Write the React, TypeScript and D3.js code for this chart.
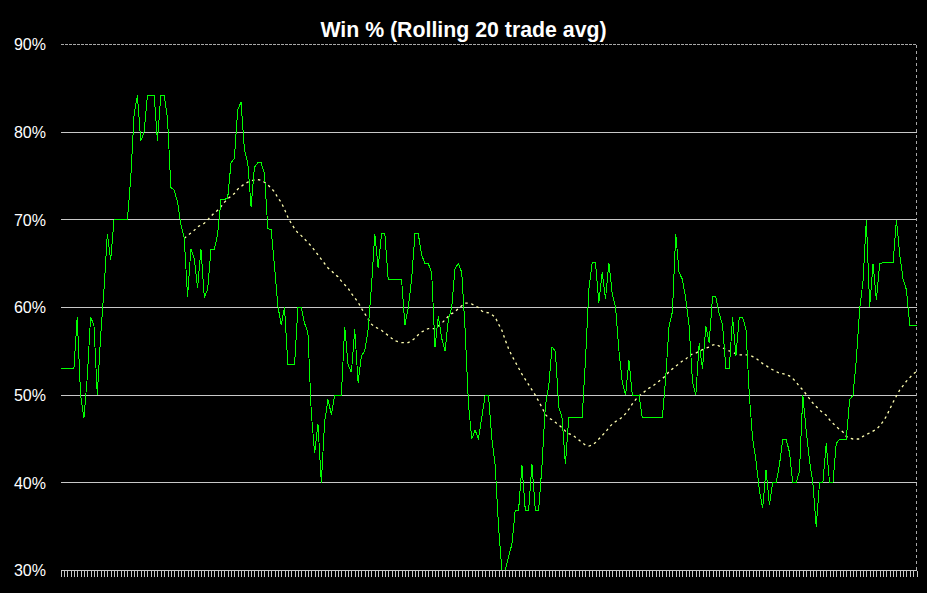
import React from 'react';
import * as d3 from 'd3';

// Rolling 20-trade win % (one value per trade tick)
const winPct: number[] = [
  53, 53, 53, 53, 53, 58.9, 50, 47.4, 52, 58.9,
  58, 50, 56.7, 62, 68.4, 65.4, 70, 70, 70, 70,
  70, 74.7, 82, 84.2, 79, 80, 84.2, 84.2, 84.2, 79,
  84.2, 84.2, 81.6, 73.7, 73.4, 72, 69.5, 68, 61.2, 66.7,
  65.6, 62.2, 66.7, 61.2, 62, 66.6, 66.6, 68.4, 72.3, 72.3,
  72.5, 76.5, 77, 82.6, 83.4, 78, 76.5, 71.5, 76, 76.5,
  76.5, 75.3, 69, 68.9, 64.7, 60.2, 58, 60, 53.5, 53.5,
  53.5, 60, 60, 58.2, 57.1, 48, 43.4, 46.7, 40, 47,
  49.5, 47.8, 50, 50, 50, 57.8, 53.5, 52.6, 57.5, 51.4,
  54.5, 55.05, 57.5, 62.4, 68.4, 64.5, 68.4, 68.4, 63.2, 63.2,
  63.2, 63.2, 63.2, 58, 60, 63.2, 68.4, 68.4, 66, 65,
  65, 64, 55.5, 59, 56.5, 55.05, 58.6, 60, 64.5, 65,
  64, 57.5, 49, 45, 46, 45, 47.5, 50, 50, 45,
  42, 35, 30, 30, 31.6, 33, 36.9, 36.9, 42, 36.9,
  36.9, 42.1, 36.9, 36.9, 42, 48.8, 51, 55.5, 55, 48.7,
  47.4, 42.1, 47.4, 47.4, 47.4, 47.4, 47.4, 54, 62, 65.1,
  65.1, 60.5, 64, 61, 65.1, 61.6, 60, 55.1, 51.5, 50,
  54, 50, 50, 50, 47.4, 47.4, 47.4, 47.4, 47.4, 47.4,
  47.4, 52, 57.9, 59.5, 68.4, 64, 63.2, 61, 57.9, 51.5,
  50, 55.9, 53, 57.9, 56, 61.2, 61.2, 59.3, 58, 53,
  53, 58.9, 54.5, 58.9, 58.9, 57.5, 50, 45, 42.5, 39.2,
  37.1, 41.5, 37.5, 40, 40, 42, 45, 45, 43.5, 40,
  40, 41.3, 50, 46, 42.5, 40, 35, 40, 40, 44.5,
  40, 40, 44.5, 45, 45, 45, 49.5, 50, 54, 59.8,
  63, 70, 60.1, 65, 60.9, 65, 65.1, 65.1, 65.1, 65.1,
  70, 66, 63.2, 62, 57.9, 57.9, 57.9,
];

// Moving average of the rolling win %, starting at trade index maStart
const maStart = 37;
const maValues: number[] = [
  67.9, 68.2, 68.5, 68.8, 69.2, 69.4, 69.6, 70.0, 70.4, 70.8,
  71.1, 71.5, 72.0, 72.4, 72.7, 73.0, 73.5, 73.8, 74.1, 74.3,
  74.45, 74.55, 74.6, 74.5, 74.3, 74.0, 73.6, 73.2, 72.5, 72.0,
  71.2, 70.3, 69.6, 69.0, 68.5, 68.2, 67.8, 67.4, 67.0, 66.5,
  66.0, 65.5, 65.0, 64.5, 64.2, 63.8, 63.5, 63.0, 62.6, 62.2,
  61.6, 61.1, 60.6, 59.9, 59.3, 58.7, 58.1, 57.8, 57.6, 57.4,
  57.1, 56.8, 56.5, 56.2, 56.1, 56.0, 56.0, 56.0, 56.2, 56.5,
  56.9, 57.2, 57.4, 57.6, 57.6, 57.6, 57.9, 58.2, 58.6, 59.0,
  59.3, 59.5, 59.9, 60.2, 60.5, 60.5, 60.4, 60.2, 60.0, 59.6,
  59.45, 59.4, 59.2, 58.9, 58.1, 57.4, 56.3, 55.3, 54.5, 53.8,
  53.1, 52.4, 51.8, 51.2, 50.6, 50.0, 49.3, 48.6, 47.8, 47.4,
  47.2, 46.9, 46.6, 46.3, 45.9, 45.6, 45.5, 45.2, 44.9, 44.6,
  44.3, 44.2, 44.3, 44.6, 45.0, 45.4, 45.8, 46.3, 46.7, 47.0,
  47.2, 47.5, 47.9, 48.4, 49.0, 49.5, 49.9, 50.2, 50.5, 50.8,
  51.0, 51.3, 51.6, 51.9, 52.2, 52.7, 53.0, 53.3, 53.6, 53.9,
  54.1, 54.5, 54.7, 54.8, 55.0, 55.2, 55.35, 55.5, 55.7, 55.8,
  55.6, 55.4, 55.2, 55.05, 54.9, 54.7, 54.6, 54.6, 54.6, 54.6,
  54.4, 54.2, 53.9, 53.6, 53.4, 53.1, 52.9, 52.7, 52.5, 52.45,
  52.35, 52.2, 51.9, 51.5, 51.0, 50.6, 50.1, 49.6, 49.1, 48.7,
  48.3, 48.0, 47.7, 47.2, 46.8, 46.4, 46.1, 45.8, 45.3, 45.1,
  45.0, 45.0, 45.0, 45.3, 45.5, 45.7, 45.9, 46.1, 46.5, 47.0,
  47.6, 48.4, 49.2, 49.9, 50.6, 51.1, 51.6, 52.0, 52.4, 52.7,
];

const yTicks: number[] = [30, 40, 50, 60, 70, 80, 90];
const yTickLabels: string[] = ['30%', '40%', '50%', '60%', '70%', '80%', '90%'];
const title = 'Win % (Rolling 20 trade avg)';

const W = 927;
const H = 593;
const FONT = "Arial, 'Liberation Sans', sans-serif";

export default function App() {
  const n = winPct.length;
  const x = d3.scaleLinear().domain([0, n - 1]).range([60.5, 916.5]);
  const y = d3.scaleLinear().domain([30, 90]).range([570.5, 44.5]);

  const winLine = d3
    .line<number>()
    .x((_, i) => x(i))
    .y((d) => y(d));
  const maLine = d3
    .line<number>()
    .x((_, i) => x(i + maStart))
    .y((d) => y(d));

  const [x0, x1] = x.range();

  return (
    <svg
      width={W}
      height={H}
      style={{ position: 'absolute', left: 0, top: 0, background: '#000', display: 'block' }}
    >
      <rect x={0} y={0} width={W} height={H} fill="#000" />
      <text
        x={W / 2}
        y={37}
        textAnchor="middle"
        fill="#fff"
        fontFamily={FONT}
        fontWeight="bold"
        fontSize={21.3}
      >
        {title}
      </text>

      {/* grid lines */}
      {yTicks.map((v) =>
        v === 30 ? null : v === 90 ? (
          <line
            key={v}
            x1={x0}
            x2={x1}
            y1={y(v)}
            y2={y(v)}
            stroke="#a8a8a8"
            strokeDasharray="3,1"
            shapeRendering="crispEdges"
          />
        ) : (
          <line
            key={v}
            x1={x0}
            x2={x1}
            y1={y(v)}
            y2={y(v)}
            stroke="#c8c8c8"
            shapeRendering="crispEdges"
          />
        )
      )}

      {/* right dashed border */}
      <line
        x1={x1}
        x2={x1}
        y1={y(90)}
        y2={y(30)}
        stroke="#a8a8a8"
        strokeDasharray="3,3"
        shapeRendering="crispEdges"
      />

      {/* y labels */}
      {yTicks.map((v, k) => (
        <text
          key={'l' + v}
          x={46}
          y={y(v)}
          dy="0.36em"
          textAnchor="end"
          fill="#fff"
          fontFamily={FONT}
          fontSize={16}
        >
          {yTickLabels[k]}
        </text>
      ))}

      {/* moving average */}
      <path
        d={maLine(maValues) || ''}
        fill="none"
        stroke="#ffffb0"
        strokeWidth={1.3}
        strokeDasharray="2.5,3.5"
      />

      {/* rolling win % */}
      <path
        d={winLine(winPct) || ''}
        fill="none"
        stroke="#00ff00"
        strokeWidth={1}
        shapeRendering="crispEdges"
      />

      {/* x axis */}
      <line
        x1={x0}
        x2={x1}
        y1={y(30)}
        y2={y(30)}
        stroke="#c8c8c8"
        shapeRendering="crispEdges"
      />
      {winPct.map((_, i) => (
        <line
          key={'t' + i}
          x1={Math.round(x(i)) + 0.5}
          x2={Math.round(x(i)) + 0.5}
          y1={y(30)}
          y2={y(30) + 6}
          stroke="#c8c8c8"
          shapeRendering="crispEdges"
        />
      ))}
    </svg>
  );
}
